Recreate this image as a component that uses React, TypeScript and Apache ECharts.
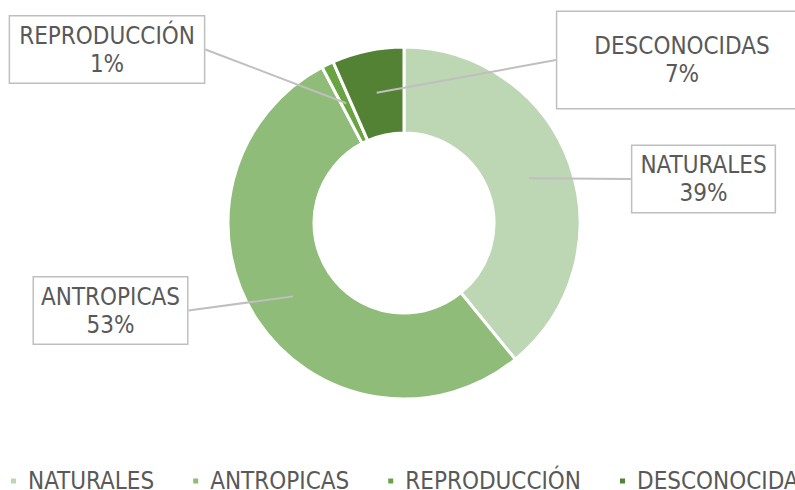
import React, { useEffect, useRef } from "react";
import * as echarts from "echarts";

const categories = ["NATURALES", "ANTROPICAS", "REPRODUCCIÓN", "DESCONOCIDAS"];
const values = [39.1, 53.2, 1.1, 6.6];
const colors = ["#BDD6B3", "#8FBC79", "#6AA342", "#548235"];

// label box layout (centers in px) and paddings
const labelCenters: [number, number][] = [
  [703.5, 179],
  [110.5, 310.5],
  [107, 49.5],
  [682, 60],
];
const labelPaddings: [number, number][] = [
  [5, 8],
  [5, 7],
  [5, 9],
  [20, 37],
];

const FONT = "'DejaVu Sans Condensed', 'DejaVu Sans', sans-serif";

export default function App() {
  const ref = useRef<HTMLDivElement>(null);
  useEffect(() => {
    if (!ref.current) return;
    const chart = echarts.init(ref.current, undefined, { renderer: "svg" });
    const center = [404, 223];
    chart.setOption({
      animation: false,
      backgroundColor: "#ffffff",
      legend: {
        data: categories,
        left: 9,
        top: 469,
        padding: 0,
        width: 2000,
        icon: "rect",
        itemWidth: 7,
        itemHeight: 7,
        itemGap: 37,
        selectedMode: false,
        textStyle: {
          fontFamily: FONT,
          fontSize: 24,
          color: "#595959",
          lineHeight: 22,
          padding: [0, 0, 0, 6],
        },
      },
      series: [
        {
          type: "pie",
          center,
          radius: [90, 176],
          startAngle: 90,
          clockwise: true,
          avoidLabelOverlap: false,
          silent: true,
          label: { show: false },
          labelLine: { show: false },
          itemStyle: { borderColor: "#ffffff", borderWidth: 3 },
          data: categories.map((name, i) => ({
            name,
            value: values[i],
            itemStyle: { color: colors[i] },
          })),
        },
        {
          type: "pie",
          center,
          radius: [0, 133],
          startAngle: 90,
          clockwise: true,
          avoidLabelOverlap: false,
          silent: true,
          z: 3,
          itemStyle: { color: "rgba(0,0,0,0)", borderWidth: 0 },
          label: {
            show: true,
            position: "outside",
            fontFamily: FONT,
            fontSize: 24,
            lineHeight: 28,
            color: "#595959",
            align: "center",
            backgroundColor: "#ffffff",
            borderColor: "#bfbfbf",
            borderWidth: 1.5,
          },
          labelLine: {
            show: true,
            length: 10,
            length2: 0,
            smooth: false,
            lineStyle: { color: "#bfbfbf", width: 2 },
          },
          labelLayout: (params: any) => {
            const c = labelCenters[params.dataIndex];
            return { x: c[0], y: c[1], align: "center", verticalAlign: "middle" };
          },
          data: categories.map((name, i) => ({
            name: name + " ",
            value: values[i],
            label: {
              padding: labelPaddings[i],
              formatter: (p: any) => `${name}\n${Math.round(p.percent)}%`,
            },
          })),
        },
      ],
    });
    return () => chart.dispose();
  }, []);
  return (
    <div
      ref={ref}
      style={{ position: "fixed", left: 0, top: 0, width: 795, height: 490 }}
    />
  );
}
